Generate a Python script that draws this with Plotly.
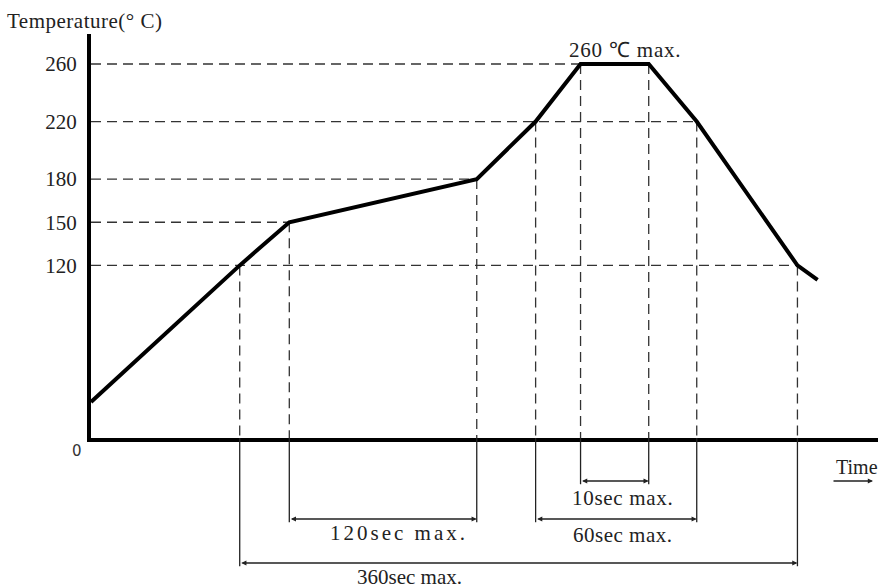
import plotly.graph_objects as go

# ---- data (time axis is schematic, in seconds) ----
time_s = [0, 96, 128, 249, 287, 316, 360, 391, 456, 469]
temp_c = [25, 120, 150, 180, 220, 260, 260, 220, 120, 110]
tick_temps = [0, 120, 150, 180, 220, 260]
tick_labels = ["", "120", "150", "180", "220", "260"]
span_labels = ["10sec max.", "60sec max.", "120sec max.", "360sec max."]
span_start_idx = [5, 4, 2, 1]
span_end_idx = [6, 7, 3, 8]
peak_label = "260 ℃ max."

# ---- style / layout ----
W, H = 878, 588
ML, MR, MT, MB = 91, 0, 34, 150
plot_h = H - MT - MB
y_top = 260 * plot_h / (H - MB - 64)
x_max = 508
SERIF = "Liberation Serif, Times New Roman, serif"
FS = 21
dash = "10px,6px"
# paper-y level of each dimension line and label (below the axis)
def py(pix):
    return (H - MB - pix) / plot_h
span_line_y = [py(481), py(519), py(519), py(563)]
span_text_y = [py(498), py(535), py(533), py(577)]
span_text_shift = [8, 6, 16, -109]
span_spacing = ["0.7px", "0.5px", "3px", "0px"]

fig = go.Figure()
fig.add_trace(go.Scatter(x=time_s, y=temp_c, mode="lines",
                         line=dict(color="black", width=4), hoverinfo="skip"))

shapes = []
# horizontal dashed reference lines
for T in tick_temps[1:]:
    t_end = max(t for t, v in zip(time_s, temp_c) if v == T)
    shapes.append(dict(type="line", xref="x", yref="y", x0=0, x1=t_end, y0=T, y1=T,
                       line=dict(color="#333", width=1.3, dash=dash), layer="below"))
# vertical dashed lines down to the time axis
for t, v in zip(time_s[1:-1], temp_c[1:-1]):
    shapes.append(dict(type="line", xref="x", yref="y", x0=t, x1=t, y0=v, y1=0,
                       line=dict(color="#333", width=1.3, dash=dash), layer="below"))
# extension lines below axis
for i0, i1, ly in zip(span_start_idx, span_end_idx, span_line_y):
    for idx in (i0, i1):
        shapes.append(dict(type="line", xref="x", yref="paper",
                           x0=time_s[idx], x1=time_s[idx], y0=0, y1=ly - 0.008,
                           line=dict(color="#222", width=1.3)))

annotations = []
for lab, i0, i1, ly, ty, sh, sp in zip(span_labels, span_start_idx, span_end_idx,
                                        span_line_y, span_text_y, span_text_shift, span_spacing):
    annotations.append(dict(x=time_s[i1], y=ly, xref="x", yref="paper",
                            ax=time_s[i0], ay=0, axref="x", ayref="pixel",
                            text="", showarrow=True, arrowhead=2, arrowsize=0.8,
                            arrowwidth=1.3, arrowcolor="#222", arrowside="end+start",
                            standoff=0, startstandoff=0))
    annotations.append(dict(x=(time_s[i0] + time_s[i1]) / 2, y=ty, xref="x", yref="paper",
                            xanchor="center", yanchor="middle",
                            text=f'<span style="letter-spacing:{sp}">{lab}</span>',
                            showarrow=False, xshift=sh,
                            font=dict(family=SERIF, size=FS, color="#222")))
# peak label
plateau = [t for t, v in zip(time_s, temp_c) if v == 260]
annotations.append(dict(x=(plateau[0] + plateau[-1]) / 2, y=260, xref="x", yref="y",
                        xanchor="center", yanchor="middle",
                        text=f'<span style="letter-spacing:0.8px">{peak_label}</span>',
                        showarrow=False, yshift=14, xshift=10,
                        font=dict(family=SERIF, size=FS, color="#222")))
# axis titles
annotations.append(dict(x=-(ML - 5) / (W - ML - MR), y=py(21), xref="paper", yref="paper",
                        xanchor="left", yanchor="middle",
                        text='<span style="letter-spacing:0.5px">Temperature(° C)</span>',
                        showarrow=False, font=dict(family=SERIF, size=FS, color="#222")))
annotations.append(dict(x=(834 - ML) / (W - ML), y=py(467), xref="paper", yref="paper",
                        xanchor="left", yanchor="middle", text="Time", showarrow=False,
                        font=dict(family=SERIF, size=20, color="#222")))
annotations.append(dict(x=(873 - ML) / (W - ML), y=py(481), xref="paper", yref="paper",
                        ax=-41, ay=0, axref="pixel", ayref="pixel",
                        text="", showarrow=True, arrowhead=2, arrowsize=0.8,
                        arrowwidth=1.3, arrowcolor="#222"))
annotations.append(dict(x=0, y=0, xref="x", yref="y", text="0", showarrow=False,
                        xanchor="right", yanchor="middle", xshift=-7, yshift=-13,
                        font=dict(family="DejaVu Sans, sans-serif", size=15, color="#333")))

fig.update_layout(
    width=W, height=H, margin=dict(l=ML, r=MR, t=MT, b=MB),
    paper_bgcolor="white", plot_bgcolor="white", showlegend=False,
    shapes=shapes, annotations=annotations,
    xaxis=dict(range=[0, x_max], showgrid=False, zeroline=False, showticklabels=False,
               showline=True, linecolor="black", linewidth=4, ticks=""),
    yaxis=dict(range=[0, y_top], showgrid=False, zeroline=False,
               tickvals=tick_temps, ticktext=tick_labels, ticks="",
               ticklabelstandoff=6,
               tickfont=dict(family=SERIF, size=FS, color="#222"),
               showline=True, linecolor="black", linewidth=4),
)
fig.write_html("out.html", config={"displayModeBar": False},
               post_script="document.body.style.margin='0';")
